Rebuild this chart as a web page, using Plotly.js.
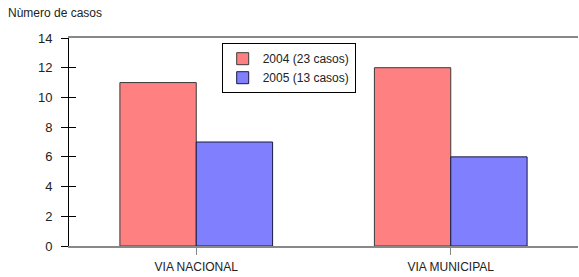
<!DOCTYPE html>
<html>
<head>
<meta charset="utf-8">
<script src="https://cdn.plot.ly/plotly-3.0.1.min.js"></script>
<style>html,body{margin:0;padding:0;background:#fff;}#chart{width:579px;height:277px;}</style>
</head>
<body>
<div id="chart"></div>
<script>
const categories = ["VIA NACIONAL", "VIA MUNICIPAL"];
const series2004 = [11, 12];
const series2005 = [7, 6];
const seriesNames = ["2004 (23 casos)", "2005 (13 casos)"];
const yTickVals = [0, 2, 4, 6, 8, 10, 12, 14];

const FONT = "Liberation Sans, Arial, sans-serif";

const traces = [
  {type: "bar", x: categories, y: series2004, name: seriesNames[0],
   marker: {color: "#FF8080", line: {color: "#3a3a3a", width: 1}}},
  {type: "bar", x: categories, y: series2005, name: seriesNames[1],
   marker: {color: "#8080FF", line: {color: "#1a1a40", width: 1}}},
  {type: "scatter", x: [categories[0]], y: [0], yaxis: "y2", mode: "none", showlegend: false, hoverinfo: "skip"}
];

const layout = {
  width: 579, height: 277,
  margin: {l: 69, r: 1, t: 38, b: 31},
  paper_bgcolor: "#fff", plot_bgcolor: "#fff",
  font: {family: FONT, size: 12, color: "#222"},
  title: {text: "Nùmero de casos", x: 8/579, xref: "container", xanchor: "left",
          y: 1 - 9/277, yref: "container", yanchor: "top",
          font: {family: FONT, size: 12, color: "#222"}},
  barmode: "group", bargap: 0.4, bargroupgap: 0,
  showlegend: true,
  legend: {x: 0.300, y: 0.975, xanchor: "left", yanchor: "top",
           bordercolor: "#000", borderwidth: 1, bgcolor: "#fff",
           font: {family: FONT, size: 12, color: "#222"},
           itemwidth: 30, tracegroupgap: 0},
  xaxis: {type: "category", range: [-0.5, 1.5], showline: true, mirror: true,
          linecolor: "#888", linewidth: 2, ticks: "outside", ticklen: 7,
          tickcolor: "#888", tickwidth: 1, showgrid: false, zeroline: false,
          ticklabelstandoff: 2,
          tickfont: {family: FONT, size: 12, color: "#222"}},
  yaxis: {range: [0, 14], tickvals: yTickVals, showline: true, linecolor: "#000",
          linewidth: 1, ticks: "outside", ticklen: 7, tickcolor: "#000",
          showgrid: false, zeroline: false, ticklabelstandoff: 6,
          tickfont: {family: FONT, size: 13, color: "#222"}},
  yaxis2: {range: [0, 14], tickvals: yTickVals, overlaying: "y", side: "left",
           showline: false, ticks: "inside", ticklen: 7, tickcolor: "#000",
           showticklabels: false, showgrid: false, zeroline: false}
};

Plotly.newPlot("chart", traces, layout, {displayModeBar: false, staticPlot: true});
</script>
</body>
</html>
